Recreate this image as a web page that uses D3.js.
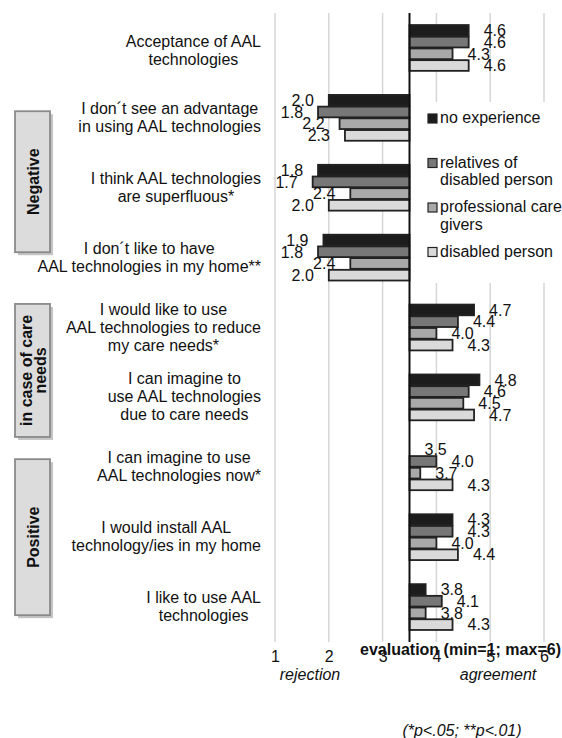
<!DOCTYPE html>
<html>
<head>
<meta charset="utf-8">
<script src="https://cdn.jsdelivr.net/npm/d3@7"></script>
<style>
  body { margin: 0; background: #fff; }
  svg text { font-family: "Liberation Sans", Arial, sans-serif; fill: #111; }
</style>
</head>
<body>
<div id="viz"></div>
<script>
// DATA
var categories = [
  ["Acceptance of AAL", "technologies"],
  ["I don\u00b4t see an advantage", "in using AAL technologies"],
  ["I think AAL technologies", "are superfluous*"],
  ["I don\u00b4t like to have", "AAL technologies in my home**"],
  ["I would like to use", "AAL technologies to reduce", "my care needs*"],
  ["I can imagine to", "use AAL technologies", "due to care needs"],
  ["I can imagine to use", "AAL technologies now*"],
  ["I would install AAL", "technology/ies in my home"],
  ["I like to use AAL", "technologies"]
];
var seriesNames = [["no experience"], ["relatives of", "disabled person"], ["professional care", "givers"], ["disabled person"]];
var noExperience = [4.6, 2.0, 1.8, 1.9, 4.7, 4.8, 3.5, 4.3, 3.8];
var relatives    = [4.6, 1.8, 1.7, 1.8, 4.4, 4.6, 4.0, 4.3, 4.1];
var professional = [4.3, 2.2, 2.4, 2.4, 4.0, 4.5, 3.7, 4.0, 3.8];
var disabled     = [4.6, 2.3, 2.0, 2.0, 4.3, 4.7, 4.3, 4.4, 4.3];
var xTicks = [1, 2, 3, 4, 5, 6];
var sections = [
  { label: ["Negative"], first: 1, last: 3 },
  { label: ["in case of care", "needs"], first: 4, last: 5 },
  { label: ["Positive"], first: 6, last: 8 }
];

(function(d3) {

  var series = [noExperience, relatives, professional, disabled];
  var colors = ["#1c1c1c", "#777777", "#a9a9a9", "#dadada"];

  // DIMENSIONS
  var w = 562, h = 738;
  var plotTop = 13, plotBottom = 642;
  var midpoint = 3.5;

  var svg = d3.select("#viz").append("svg")
    .attr("width", w).attr("height", h);

  var x = d3.scaleLinear().domain([1, 6]).range([275, 544]);
  var y = d3.scaleBand().domain(d3.range(categories.length))
    .range([plotTop, plotBottom]).paddingInner(0.33).paddingOuter(0.165);
  var ySub = d3.scaleBand().domain(d3.range(series.length)).range([0, y.bandwidth()]);

  // GRID
  svg.append("g").selectAll("line").data(xTicks).enter().append("line")
    .attr("x1", function(d) { return x(d); }).attr("x2", function(d) { return x(d); })
    .attr("y1", plotTop).attr("y2", plotBottom)
    .attr("stroke", "#d6d6d6").attr("stroke-width", 1.5);

  // LEGEND BACKGROUND (hides grid)
  var legX = 428;
  svg.append("rect").attr("x", 418).attr("y", 102).attr("width", w - 418).attr("height", 181)
    .attr("fill", "#fff");

  // BARS
  var groups = svg.append("g").selectAll("g").data(categories).enter().append("g")
    .attr("transform", function(d, i) { return "translate(0," + y(i) + ")"; });

  groups.each(function(cat, i) {
    var g = d3.select(this);
    series.forEach(function(s, j) {
      var v = s[i];
      var x0 = x(Math.min(v, midpoint)), x1 = x(Math.max(v, midpoint));
      g.append("rect")
        .attr("x", x0).attr("y", ySub(j) + 0.5)
        .attr("width", x1 - x0).attr("height", ySub.bandwidth() - 1)
        .attr("fill", colors[j])
        .attr("stroke", x1 - x0 > 0 ? "#222" : "none").attr("stroke-width", 1.8);
      var pos = v >= midpoint;
      g.append("text")
        .attr("x", pos ? x(v) + 15 : x(v) - 15)
        .attr("y", ySub(j) + ySub.bandwidth() / 2)
        .attr("dy", "0.36em")
        .attr("text-anchor", pos ? "start" : "end")
        .style("font-size", "16px")
        .text(v.toFixed(1));
    });
  });

  // CENTER AXIS
  svg.append("line").attr("x1", x(midpoint)).attr("x2", x(midpoint))
    .attr("y1", plotTop).attr("y2", plotBottom)
    .attr("stroke", "#111").attr("stroke-width", 2);

  // CATEGORY LABELS: block right aligned, lines centered inside block
  var labelRight = 261, lineH = 18;
  categories.forEach(function(lines, i) {
    var cy = y(i) + y.bandwidth() / 2 + (i === 0 ? 3 : 0);
    var t = svg.append("text").style("font-size", "16px").attr("text-anchor", "middle");
    var spans = lines.map(function(l, k) {
      return t.append("tspan").attr("y", cy + (k - (lines.length - 1) / 2) * lineH + 5).text(l);
    });
    var maxW = d3.max(spans, function(s) { return s.node().getComputedTextLength(); });
    spans.forEach(function(s) { s.attr("x", labelRight - maxW / 2); });
  });

  // LEGEND
  seriesNames.forEach(function(lines, j) {
    var by = 123 + j * 44.5;
    svg.append("rect").attr("x", legX).attr("y", by - 9).attr("width", 9).attr("height", 9)
      .attr("fill", colors[j]).attr("stroke", "#222").attr("stroke-width", 1.2);
    var t = svg.append("text").style("font-size", "16px");
    lines.forEach(function(l, k) {
      t.append("tspan").attr("x", legX + 12).attr("y", by + k * 17.5).text(l);
    });
  });

  // X AXIS
  var axis = svg.append("g").attr("transform", "translate(0," + 648 + ")")
    .call(d3.axisBottom(x).tickValues(xTicks).tickSize(0).tickPadding(0).tickFormat(d3.format("d")));
  axis.select(".domain").remove();
  axis.selectAll("text").style("font-size", "16px").attr("fill", "#111").attr("dy", "0.9em")
    .attr("font-family", null);

  svg.append("text").attr("x", 360).attr("y", 655)
    .style("font-size", "16px").style("font-weight", "bold")
    .text("evaluation (min=1; max=6)");
  svg.append("text").attr("x", 310).attr("y", 680).attr("text-anchor", "middle")
    .style("font-size", "16px").style("font-style", "italic").text("rejection");
  svg.append("text").attr("x", 498).attr("y", 680).attr("text-anchor", "middle")
    .style("font-size", "16px").style("font-style", "italic").text("agreement");
  svg.append("text").attr("x", 462).attr("y", 736).attr("text-anchor", "middle")
    .style("font-size", "16px").style("font-style", "italic").text("(*p<.05; **p<.01)");

  // SECTION BOXES
  var boxH = [141, 133, 156];
  sections.forEach(function(s, i) {
    var cy = (y(s.first) + y(s.last) + y.bandwidth()) / 2;
    if (i === 0) cy -= 6;
    if (i === 1) cy += 8;
    var bx = 15, bw = 35, by = cy - boxH[i] / 2;
    svg.append("rect").attr("x", bx + 3).attr("y", by + 3).attr("width", bw).attr("height", boxH[i])
      .attr("fill", "#c4c4c4");
    svg.append("rect").attr("x", bx).attr("y", by).attr("width", bw).attr("height", boxH[i])
      .attr("fill", "#dcdcdc").attr("stroke", "#8a8a8a").attr("stroke-width", 1.8);
    var t = svg.append("text")
      .attr("transform", "translate(" + (bx + bw / 2) + "," + cy + ") rotate(-90)")
      .attr("text-anchor", "middle")
      .style("font-size", "16px").style("font-weight", "bold");
    s.label.forEach(function(l, k) {
      t.append("tspan").attr("x", 0)
        .attr("y", (k - (s.label.length - 1) / 2) * 14 + 6).text(l);
    });
  });

})(d3);
</script>
</body>
</html>
